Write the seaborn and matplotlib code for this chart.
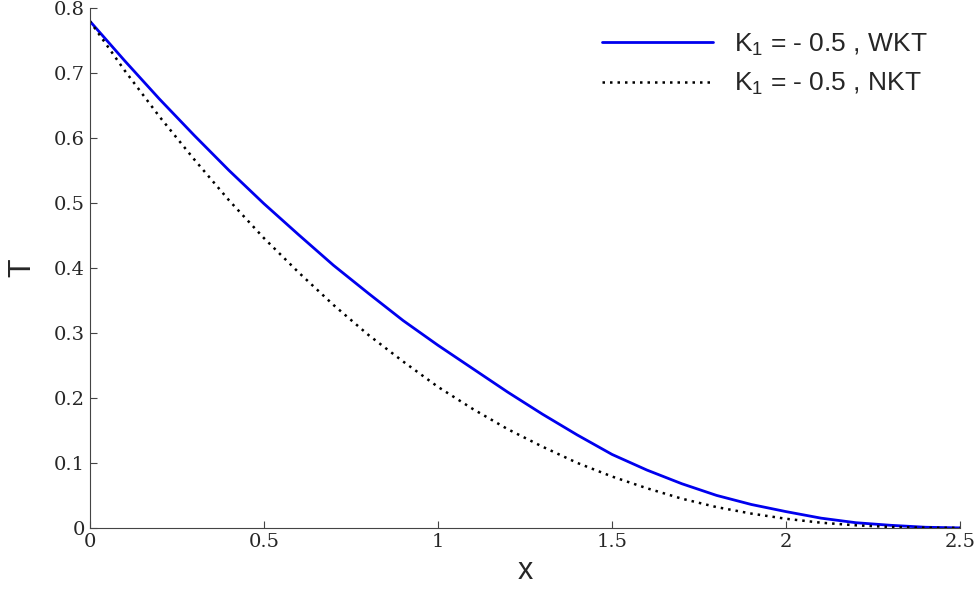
import matplotlib
matplotlib.use("Agg")
import matplotlib.pyplot as plt
import seaborn as sns
import pandas as pd

x = [0.0, 0.1, 0.2, 0.3, 0.4, 0.5, 0.6, 0.7, 0.8, 0.9, 1.0, 1.1, 1.2,
     1.3, 1.4, 1.5, 1.6, 1.7, 1.8, 1.9, 2.0, 2.1, 2.2, 2.3, 2.4, 2.5]
T_wkt = [0.78, 0.719, 0.660, 0.604, 0.550, 0.499, 0.451, 0.404, 0.361, 0.319,
         0.281, 0.245, 0.209, 0.175, 0.143, 0.113, 0.089, 0.068, 0.050, 0.036,
         0.025, 0.015, 0.008, 0.004, 0.001, 0.0]
T_nkt = [0.78, 0.704, 0.633, 0.567, 0.504, 0.446, 0.393, 0.343, 0.297, 0.256,
         0.217, 0.183, 0.152, 0.125, 0.100, 0.079, 0.061, 0.045, 0.032, 0.022,
         0.014, 0.008, 0.004, 0.0014, 0.0003, 0.0]

df = pd.DataFrame({"x": x, "wkt": T_wkt, "nkt": T_nkt})

sns.set_style("ticks")
plt.rcParams["font.family"] = ["Liberation Sans", "DejaVu Sans"]
plt.rcParams["mathtext.fontset"] = "custom"
plt.rcParams["mathtext.rm"] = "Liberation Sans"
plt.rcParams["mathtext.it"] = "Liberation Sans"
fig = plt.figure(figsize=(9.75, 6.11), dpi=100)
ax = fig.add_axes([0.092, 0.136, 0.893, 0.851])

sns.lineplot(data=df, x="x", y="wkt", ax=ax, color="#0000ee", lw=2,
             label="K$_\\mathrm{1}$ = - 0.5 , WKT")
sns.lineplot(data=df, x="x", y="nkt", ax=ax, color="black", lw=1.8,
             linestyle=(0, (1, 2)), label="K$_\\mathrm{1}$ = - 0.5 , NKT")

ax.set_xlim(0, 2.5)
ax.set_ylim(0, 0.8)
ax.set_xticks([0, 0.5, 1, 1.5, 2, 2.5])
ax.set_xticklabels(["0", "0.5", "1", "1.5", "2", "2.5"])
ax.set_yticks([0, 0.1, 0.2, 0.3, 0.4, 0.5, 0.6, 0.7, 0.8])
ax.set_yticklabels(["0", "0.1", "0.2", "0.3", "0.4", "0.5", "0.6", "0.7", "0.8"])
ax.tick_params(direction="in", labelsize=14, length=5, color="#444444")
for lab in ax.get_xticklabels() + ax.get_yticklabels():
    lab.set_family("DejaVu Serif")
ax.set_xlabel("x", fontsize=22)
ax.set_ylabel("T", fontsize=22, labelpad=12)
sns.despine(ax=ax)
ax.spines["left"].set_color("#444444")
ax.spines["bottom"].set_color("#444444")

ax.legend(loc="upper right", frameon=False, fontsize=19, handlelength=4.2,
          labelspacing=0.5, bbox_to_anchor=(0.99, 1.0))

fig.savefig("out.png", dpi=100)
